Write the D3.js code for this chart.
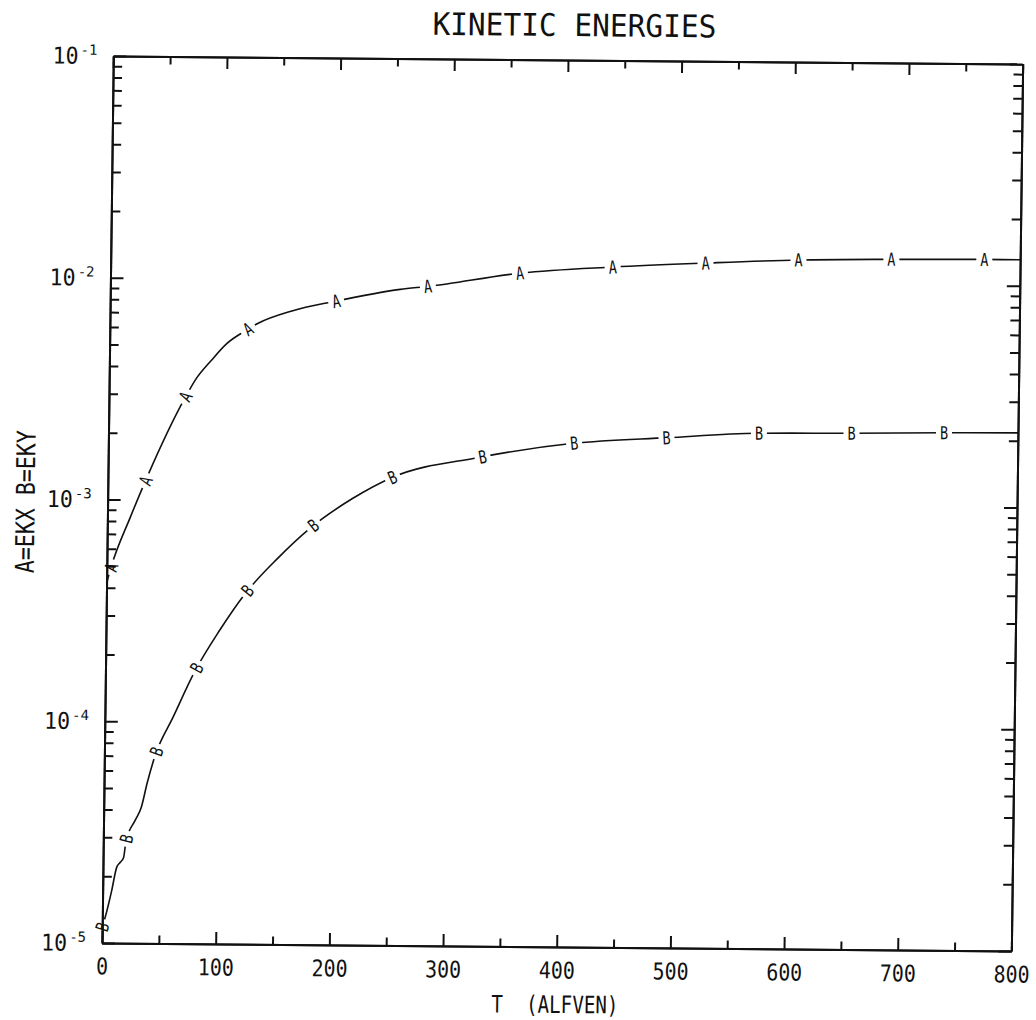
<!DOCTYPE html>
<html>
<head>
<meta charset="utf-8">
<script src="https://cdn.jsdelivr.net/npm/d3@7"></script>
<style>
body { margin: 0; background: #fff; }
svg text { font-family: "DejaVu Sans Mono", "Liberation Mono", monospace; fill: #111; }
</style>
</head>
<body>
<svg id="chart" width="1036" height="1020"></svg>
<script>
// A = EKX, B = EKY (T in Alfven times)
var timeA = [0, 4, 20, 34, 67, 76, 90, 103, 120, 130, 160, 198, 255, 280, 361, 442, 524, 605, 686, 767, 800];
var ekx = [4.2e-4, 5.0e-4, 8.3e-4, 1.25e-3, 2.9e-3, 3.5e-3, 4.3e-3, 5.1e-3, 5.87e-3, 6.3e-3, 7.2e-3, 8.0e-3, 9.1e-3, 9.42e-3, 1.09e-2, 1.17e-2, 1.23e-2, 1.28e-2, 1.30e-2, 1.31e-2, 1.31e-2];
var timeB = [0, 2.4, 7.9, 12, 15, 18, 20, 28, 33, 38, 44.5, 60, 78.8, 100, 122, 150, 178, 215, 250, 326, 409, 492, 571, 654, 735, 800];
var eky = [1.18e-5, 1.30e-5, 1.72e-5, 2.19e-5, 2.31e-5, 2.43e-5, 2.89e-5, 3.6e-5, 4.1e-5, 5.3e-5, 7.0e-5, 1.05e-4, 1.70e-4, 2.6e-4, 3.81e-4, 5.5e-4, 7.53e-4, 1.03e-3, 1.29e-3, 1.60e-3, 1.87e-3, 2.00e-3, 2.11e-3, 2.13e-3, 2.16e-3, 2.17e-3];
var xMajor = [0, 100, 200, 300, 400, 500, 600, 700, 800];
var xMinor = [50, 150, 250, 350, 450, 550, 650, 750];
var yExp = [-5, -4, -3, -2, -1];

var W = 910, H = 887;
var svg = d3.select("#chart");
// the scanned plot sits slightly skewed on the page
var g = svg.append("g").attr("transform", "matrix(0.9993,0.0088,-0.01275,1,113.3,56)");

var x = d3.scaleLinear().domain([0, 800]).range([0, W]);
var y = d3.scaleLog().domain([1e-5, 1e-1]).range([H, 0]);

var line = d3.line()
    .x(function(d) { return x(d[0]); })
    .y(function(d) { return y(d[1]); })
    .curve(d3.curveMonotoneX);

// plotter puts a symbol every ~93px along each curve
var series = [
    { letter: "A", pts: d3.zip(timeA, ekx), offset: 16.5, step: 93 },
    { letter: "B", pts: d3.zip(timeB, eky), offset: 0, step: 92.6 }
];

series.forEach(function(s) {
    var path = g.append("path")
        .attr("d", line(s.pts))
        .attr("fill", "none")
        .attr("stroke", "#111")
        .attr("stroke-width", 1.6);
    var node = path.node(), len = node.getTotalLength();
    d3.range(s.offset, len - 4, s.step).forEach(function(l) {
        var p = node.getPointAtLength(l),
            p0 = node.getPointAtLength(Math.max(0, l - 3)),
            p1 = node.getPointAtLength(Math.min(len, l + 3));
        var ang = Math.atan2(p1.y - p0.y, p1.x - p0.x) * 180 / Math.PI;
        var m = g.append("g").attr("transform", "translate(" + p.x + "," + p.y + ") rotate(" + ang + ")");
        m.append("rect").attr("x", -8).attr("y", -9).attr("width", 16).attr("height", 18).attr("fill", "#fff");
        m.append("text")
            .attr("text-anchor", "middle")
            .attr("dy", "0.36em")
            .attr("font-size", 18)
            .attr("transform", "scale(0.75,1)")
            .text(s.letter);
    });
});

// axes, ticks pointing inward on all four sides
function styleAxis(sel) {
    sel.selectAll("path, line").attr("stroke", "#111").attr("stroke-width", 2);
    sel.selectAll("text").remove();
}
g.append("g").attr("transform", "translate(0," + H + ")")
    .call(d3.axisBottom(x).tickValues(xMinor).tickSize(-8).tickSizeOuter(0)).call(styleAxis);
var xb = g.append("g").attr("transform", "translate(0," + H + ")")
    .call(d3.axisBottom(x).tickValues(xMajor).tickSize(-12).tickSizeOuter(0).tickPadding(15));
xb.selectAll("path, line").attr("stroke", "#111").attr("stroke-width", 2);
xb.selectAll("text")
    .attr("font-size", 23)
    .attr("font-family", null)
    .attr("fill", "#111")
    .attr("textLength", function(d) { return String(d).length * 12; })
    .attr("lengthAdjust", "spacingAndGlyphs");

g.append("g").call(d3.axisTop(x).tickValues(xMinor).tickSize(-8).tickSizeOuter(0)).call(styleAxis);
g.append("g").call(d3.axisTop(x).tickValues(xMajor).tickSize(-12).tickSizeOuter(0)).call(styleAxis);

var minor = y.ticks().filter(function(v) { return Math.abs(Math.log10(v) - Math.round(Math.log10(v))) > 1e-6; });
var major = yExp.map(function(e) { return Math.pow(10, e); });
g.append("g").call(d3.axisLeft(y).tickValues(minor).tickSize(-9).tickSizeOuter(0)).call(styleAxis);
g.append("g").call(d3.axisLeft(y).tickValues(major).tickSize(-13).tickSizeOuter(0)).call(styleAxis);
g.append("g").attr("transform", "translate(" + W + ",0)")
    .call(d3.axisRight(y).tickValues(minor).tickSize(-9).tickSizeOuter(0)).call(styleAxis);
g.append("g").attr("transform", "translate(" + W + ",0)")
    .call(d3.axisRight(y).tickValues(major).tickSize(-13).tickSizeOuter(0)).call(styleAxis);

// decade labels 10^n
var yl = g.selectAll(".ylab").data(yExp).enter().append("text")
    .attr("class", "ylab")
    .attr("text-anchor", "end")
    .attr("x", -16)
    .attr("y", function(e) { return y(Math.pow(10, e)) + 8; });
yl.append("tspan").attr("font-size", 23).attr("textLength", 26).attr("lengthAdjust", "spacingAndGlyphs").text("10");
yl.append("tspan").attr("font-size", 14).attr("dx", 2).attr("dy", -9).text(function(e) { return String(e); });

// titles
g.append("text")
    .attr("x", 461).attr("y", -24)
    .attr("text-anchor", "middle")
    .attr("font-size", 31)
    .attr("textLength", 284).attr("lengthAdjust", "spacingAndGlyphs")
    .text("KINETIC ENERGIES");
g.append("text")
    .attr("x", W / 2 - 1).attr("y", 953)
    .attr("text-anchor", "middle")
    .attr("font-size", 24)
    .attr("xml:space", "preserve")
    .style("white-space", "pre")
    .attr("textLength", 127).attr("lengthAdjust", "spacingAndGlyphs")
    .text("T  (ALFVEN)");
g.append("text")
    .attr("transform", "translate(-73," + (H / 2 + 3) + ") rotate(-90)")
    .attr("text-anchor", "middle")
    .attr("font-size", 26)
    .attr("textLength", 143).attr("lengthAdjust", "spacingAndGlyphs")
    .text("A=EKX B=EKY");
</script>
</body>
</html>
